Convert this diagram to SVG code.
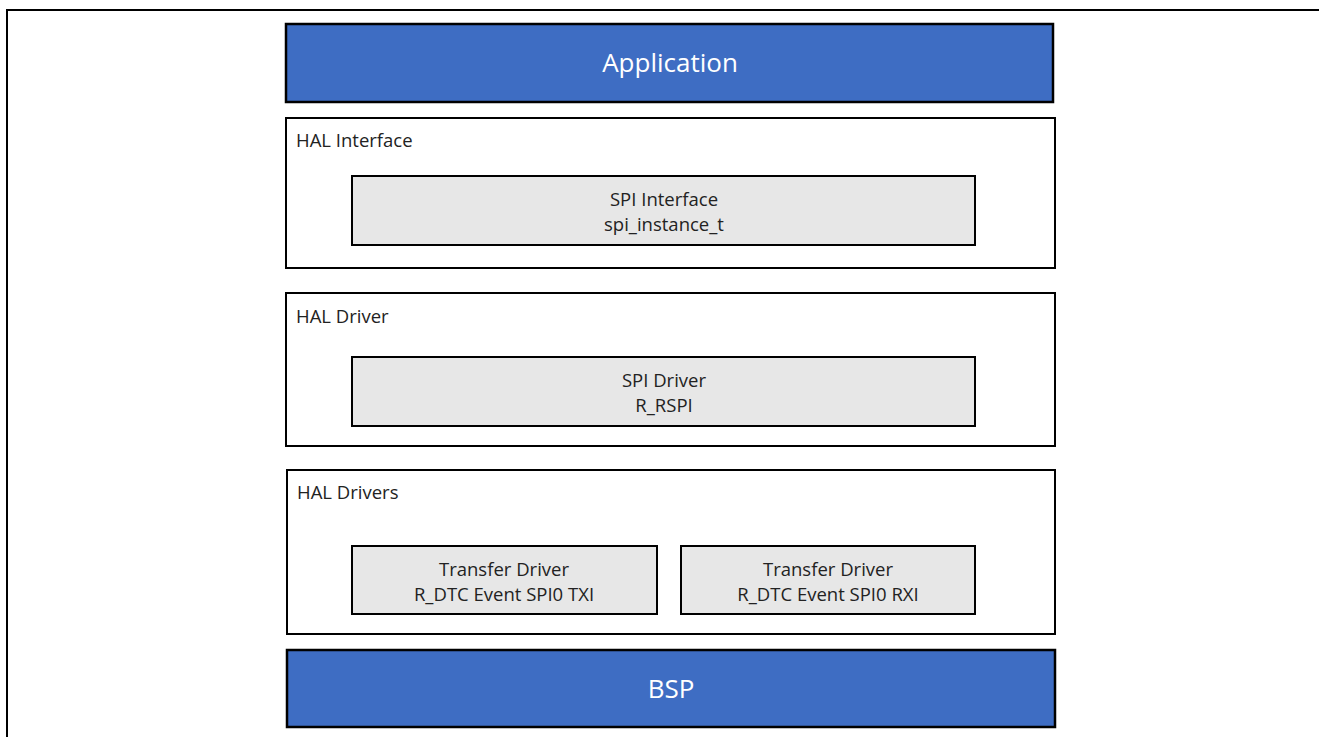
<svg xmlns="http://www.w3.org/2000/svg" width="1319" height="737" viewBox="0 0 1319 737">
<style>
.blue{fill:#3E6DC3;stroke:#000;stroke-width:2.5}
.layer{fill:#fff;stroke:#000;stroke-width:2}
.mod{fill:#E7E7E7;stroke:#000;stroke-width:2}
text{font-family:"Open Sans","Liberation Sans",sans-serif;fill:#222}
.lbl{font-size:18.5px}
.c{text-anchor:middle}
.big{font-size:26px;fill:#fff;text-anchor:middle}
</style>
<rect x="7" y="10" width="1330" height="740" fill="none" stroke="#000" stroke-width="2"/>
<g id="application"><rect class="blue" x="286" y="24" width="767" height="78"/><text class="big" x="670" y="72">Application</text></g>
<g id="hal-interface"><rect class="layer" x="286" y="118" width="769" height="150"/><text class="lbl" x="296" y="147">HAL Interface</text></g>
<g id="spi-interface"><rect class="mod" x="352" y="176" width="623" height="69"/><text class="lbl c" x="664" y="206">SPI Interface</text><text class="lbl c" x="664" y="231">spi_instance_t</text></g>
<g id="hal-driver"><rect class="layer" x="286" y="293" width="769" height="153"/><text class="lbl" x="296" y="323">HAL Driver</text></g>
<g id="spi-driver"><rect class="mod" x="352" y="357" width="623" height="69"/><text class="lbl c" x="664" y="387">SPI Driver</text><text class="lbl c" x="664" y="412">R_RSPI</text></g>
<g id="hal-drivers"><rect class="layer" x="287" y="470" width="768" height="164"/><text class="lbl" x="297" y="499">HAL Drivers</text></g>
<g id="transfer-tx"><rect class="mod" x="352" y="546" width="305" height="68"/><text class="lbl c" x="504" y="576">Transfer Driver</text><text class="lbl c" x="504" y="601">R_DTC Event SPI0 TXI</text></g>
<g id="transfer-rx"><rect class="mod" x="681" y="546" width="294" height="68"/><text class="lbl c" x="828" y="576">Transfer Driver</text><text class="lbl c" x="828" y="601">R_DTC Event SPI0 RXI</text></g>
<g id="bsp"><rect class="blue" x="287" y="650" width="768" height="77"/><text class="big" x="671" y="698">BSP</text></g>
<g id="connectors"/>
</svg>
